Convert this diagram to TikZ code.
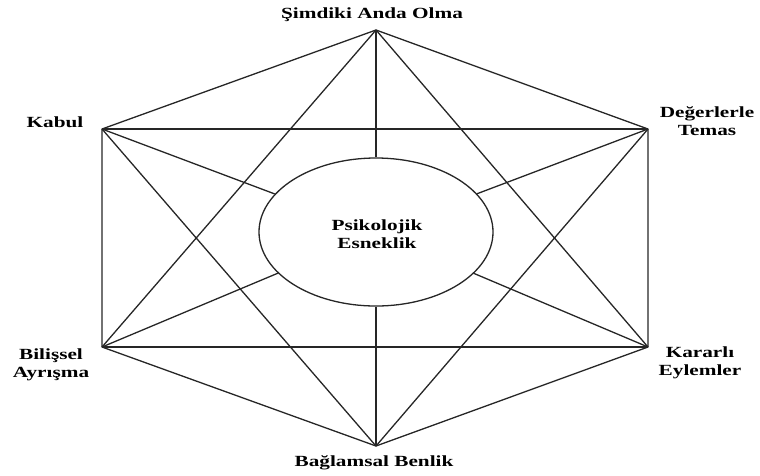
\documentclass[tikz,border=0pt]{standalone}
\usepackage{fontspec}
\setmainfont{Liberation Serif}
\usetikzlibrary{shapes,positioning}
\colorlet{penColor}{black!85}
\tikzset{
  edge/.style={penColor, line width=1.3pt, line join=round},
  lbl/.style={font=\bfseries\fontsize{15.5}{17.5}\selectfont, align=center, xscale=1.37, transform shape, inner sep=0pt},
}

\begin{document}
\begin{tikzpicture}[x=1pt,y=-1pt]
\useasboundingbox (0,0) rectangle (760,475);
% corners of the hexagon
\coordinate (simdi) at (376,30);
\coordinate (kabul) at (102,129);
\coordinate (deger) at (648,129);
\coordinate (bilis) at (102,347);
\coordinate (karar) at (648,347);
\coordinate (baglam) at (376,446);

\node[ellipse, draw=penColor, line width=1.3pt, fill=white, minimum width=234pt, minimum height=148pt, inner sep=0pt] (esnek) at (376,232) {};

\draw[edge] (simdi) -- (kabul) -- (bilis) -- (baglam) -- (karar) -- (deger) -- cycle;
\draw[edge] (kabul) -- (deger);
\draw[edge] (bilis) -- (karar);
\draw[edge] (simdi) -- (bilis);
\draw[edge] (simdi) -- (karar);
\draw[edge] (baglam) -- (kabul);
\draw[edge] (baglam) -- (deger);
\draw[edge] (simdi) -- (esnek.north);
\draw[edge] (baglam) -- (esnek.south);
\foreach \v in {kabul,deger,bilis,karar}
  \draw[edge] (\v) -- (esnek);

\node[lbl] (esnekLbl) at (377,234) {Psikolojik\\Esneklik};
\node[lbl] (simdiLbl) at (372,15) {Şimdiki Anda Olma};
\node[lbl] (kabulLbl) at (55,122) {Kabul};
\node[lbl] (degerLbl) at (707,121) {Değerlerle\\Temas};
\node[lbl] (bilisLbl) at (51,365) {Bilişsel\\Ayrışma};
\node[lbl] (kararLbl) at (700,363) {Kararlı\\Eylemler};
\node[lbl] (baglamLbl) at (374,463) {Bağlamsal Benlik};
\end{tikzpicture}
\end{document}
